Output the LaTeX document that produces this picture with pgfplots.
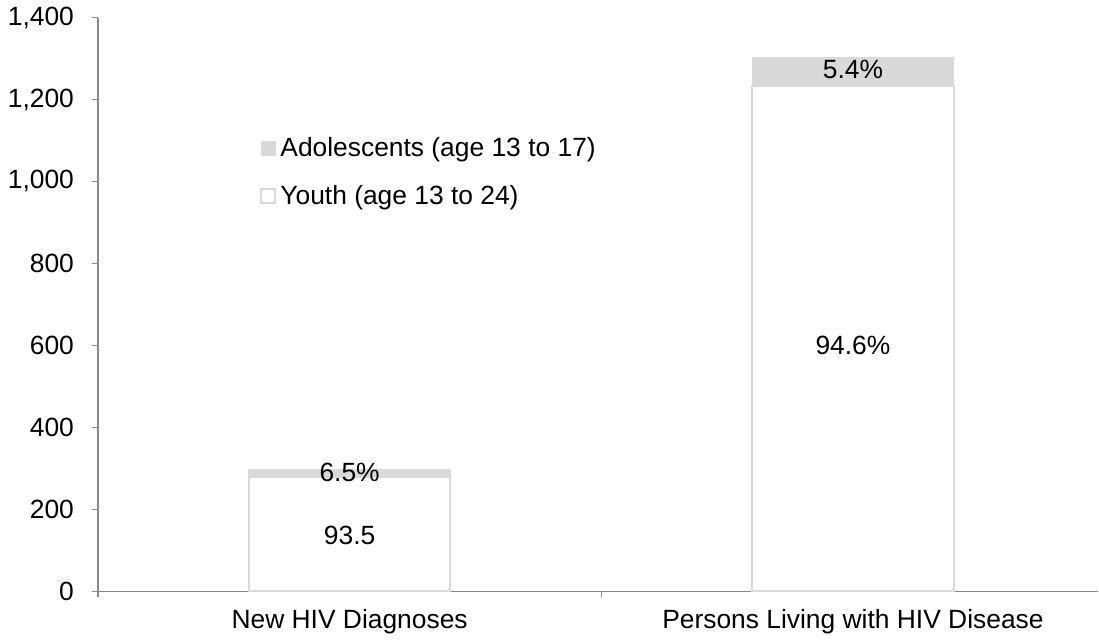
\documentclass[border=0pt]{standalone}
\usepackage{pgfplots}
\pgfplotsset{compat=1.18}
\usepackage{fontspec}
\setmainfont{Liberation Sans}
\definecolor{adol}{HTML}{D9D9D9}
\definecolor{axisgray}{HTML}{898989}
\begin{document}
\begin{tikzpicture}[font=\fontsize{13.2bp}{16bp}\selectfont]
\begin{axis}[
  scale only axis, width=500.5bp, height=287bp,
  ybar stacked, bar width=0.4,
  xmin=-0.5, xmax=1.4876, ymin=0, ymax=1400,
  axis x line*=bottom, axis y line*=left,
  axis line style={axisgray, line width=0.6bp},
  tick style={axisgray, line width=0.6bp},
  major tick length=3bp, tick align=outside,
  ytick={0,200,...,1400},
  /pgf/number format/assume math mode=true,
  yticklabel style={/pgf/number format/1000 sep={,}, xshift=-5.5bp},
  xtick={-0.5,0.5,1.5}, xticklabels={},
  extra x ticks={0,1},
  extra x tick labels={New HIV Diagnoses, Persons Living with HIV Disease},
  extra x tick style={major tick length=0pt, xticklabel style={yshift=-5.5bp}},
  reverse legend,
  legend cell align=left,
  legend image code/.code={\draw[#1] (0bp,-3.5bp) rectangle (7bp,3.5bp);},
  legend style={at={(0.162,0.798)}, anchor=north west, draw=none, fill=none,
    inner sep=0pt, row sep=8.5bp, nodes={inner sep=2bp}},
]
\addplot[fill=white, draw=adol, line width=1bp] coordinates {(0,278) (1,1233)};
\addplot[fill=adol, draw=adol, line width=0.5bp] coordinates {(0,19) (1,69)};
\legend{Youth (age 13 to 24), Adolescents (age 13 to 17)}
\coordinate (l1) at (axis cs:0,290);
\coordinate (l2) at (axis cs:0,136);
\coordinate (l3) at (axis cs:1,1273);
\coordinate (l4) at (axis cs:1,600);
\end{axis}
\node at (l1) {6.5\%};
\node at (l2) {93.5};
\node at (l3) {5.4\%};
\node at (l4) {94.6\%};
\path ([shift={(-49bp,-24bp)}]current axis.south west) ([shift={(0bp,8.5bp)}]current axis.north east);
\end{tikzpicture}
\end{document}
